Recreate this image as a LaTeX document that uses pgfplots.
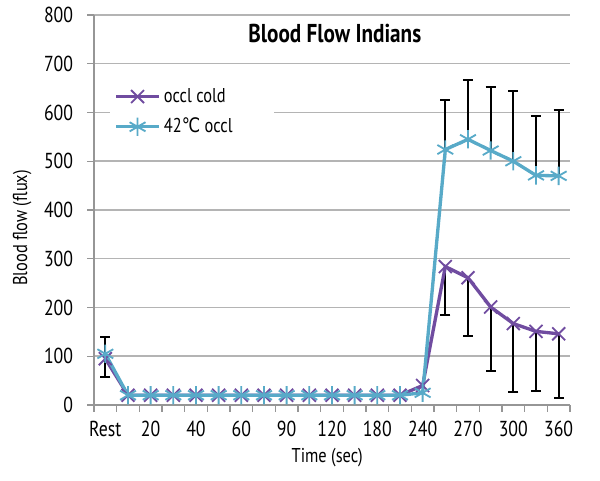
\documentclass[border=0pt]{standalone}
\usepackage{fontspec}
\setmainfont{PT Sans}[FakeStretch=0.82]
\newfontfamily\symfont{DejaVu Sans}[FakeStretch=0.82]
\usepackage{pgfplots}
\pgfplotsset{compat=1.18}
\definecolor{coldc}{RGB}{112,76,160}
\definecolor{warmc}{RGB}{88,170,200}
\definecolor{gridc}{RGB}{180,180,180}
\definecolor{axisc}{RGB}{150,150,150}

\begin{document}
\begin{tikzpicture}
\useasboundingbox (-56.4pt,-45.6pt) rectangle (303.6pt,243pt);
\begin{axis}[
  at={(0,0)}, anchor=south west,
  scale only axis, width=285.6pt, height=234pt,
  xmin=-0.5, xmax=20.5, ymin=0, ymax=800,
  axis x line=bottom, axis y line=left,
  axis line style={-, draw=axisc, line width=0.9pt},
  /pgf/number format/assume math mode=true,
  ytick={0,100,...,800},
  xtick={-0.5,0.5,...,20.5}, xticklabels={},
  extra x ticks={0,2,...,20},
  extra x tick labels={Rest,20,40,60,90,120,180,240,270,300,360},
  extra x tick style={major tick length=0pt, grid=none,
    xticklabel style={yshift=-6pt}},
  tick align=outside, major tick length=4pt,
  tick style={draw=axisc, line width=0.8pt},
  ymajorgrids, grid style={draw=gridc, line width=0.9pt},
  tick label style={font=\fontsize{13}{14}\selectfont},
  yticklabel style={xshift=-5pt},
  label style={font=\fontsize{12}{13}\selectfont},
  ylabel={Blood flow (flux)},
  ylabel style={at={(axis description cs:-0.151,0.454)}, anchor=center},
  xlabel={Time (sec)},
  xlabel style={at={(axis description cs:0.49,-0.136)}, anchor=center},
  title={Blood Flow Indians},
  title style={at={(axis description cs:0.506,0.954)}, anchor=center,
    yshift=-6.6pt, font=\fontsize{15.5}{17}\selectfont\bfseries},
  legend style={at={(axis description cs:0.032,0.83)}, anchor=north west,
    draw=none, fill=white, font=\fontsize{12}{13}\selectfont, row sep=4pt},
  legend cell align=left,
  legend image code/.code={
    \draw[mark repeat=2, mark phase=2] plot coordinates {(0cm,0cm) (0.45cm,0cm) (0.9cm,0cm)};},
]
% error bars (occl cold: minus, 42C occl: plus)
\addplot[forget plot, draw=none,
  error bars/.cd, y dir=minus, y explicit, error mark=|,
  error bar style={draw=black, line width=1.1pt},
  error mark options={draw=black, mark size=3pt, line width=1.1pt}]
  coordinates {
  (0,95) +- (0,37)
  (15,284) +- (0,99) (16,261) +- (0,120) (17,201) +- (0,131)
  (18,167) +- (0,141) (19,151) +- (0,122) (20,146) +- (0,132)};
\addplot[forget plot, draw=none,
  error bars/.cd, y dir=plus, y explicit, error mark=|,
  error bar style={draw=black, line width=1.1pt},
  error mark options={draw=black, mark size=3pt, line width=1.1pt}]
  coordinates {
  (0,105) +- (0,35)
  (15,524) +- (0,101) (16,545) +- (0,121) (17,522) +- (0,131)
  (18,500) +- (0,144) (19,471) +- (0,122) (20,470) +- (0,135)};
\addplot[coldc, line width=2pt, mark=x, mark size=5.5pt,
  mark options={line width=1.1pt}] coordinates {
  (0,95) (1,20) (2,20) (3,20) (4,20) (5,20) (6,20) (7,20) (8,20) (9,20)
  (10,20) (11,20) (12,20) (13,20) (14,40) (15,284) (16,261) (17,201)
  (18,167) (19,151) (20,146)};
\addplot[warmc, line width=2pt, mark=asterisk, mark size=5.5pt,
  mark options={line width=1.1pt}] coordinates {
  (0,105) (1,20) (2,20) (3,20) (4,20) (5,20) (6,20) (7,20) (8,20) (9,20)
  (10,20) (11,20) (12,20) (13,20) (14,25) (15,524) (16,545) (17,522)
  (18,500) (19,471) (20,470)};
\legend{occl cold\hspace*{24pt}, 42{\symfont ℃} occl}
\end{axis}
\end{tikzpicture}
\end{document}
